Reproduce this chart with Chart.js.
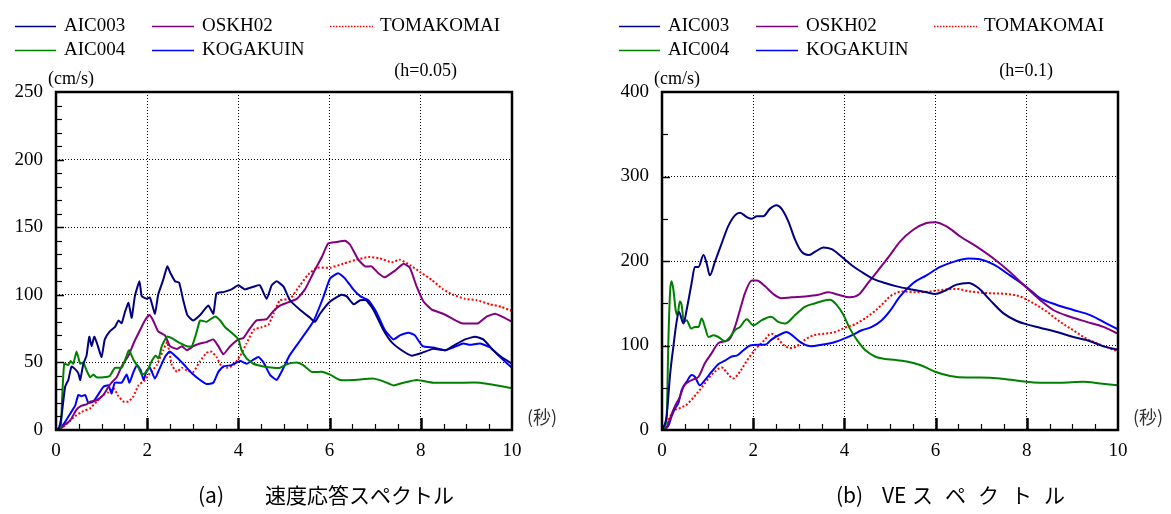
<!DOCTYPE html>
<html>
<head>
<meta charset="utf-8">
<script src="https://cdn.jsdelivr.net/npm/chart.js@4/dist/chart.umd.min.js"></script>
<style>
  html, body { margin: 0; padding: 0; background: #fff; }
  canvas { position: absolute; top: 0; }
  #vel-chart { left: 0; }
  #ve-chart { left: 590px; }
</style>
</head>
<body>
<canvas id="vel-chart" width="590" height="514"></canvas>
<canvas id="ve-chart" width="581" height="514"></canvas>
<script>
// station order, colours
const stationNames = ["AIC003", "AIC004", "OSKH02", "KOGAKUIN", "TOMAKOMAI"];
const stationColors = ["#000080", "#008000", "#800080", "#0000ff", "#ff0000"];

// velocity response spectrum, h=0.05  [period (s), cm/s]
const velAIC003 = [[0,0],[0.05,0],[0.12,10],[0.2,32],[0.27,37],[0.34,47],[0.42,45],[0.49,42],[0.53,37],[0.6,49],[0.67,55],[0.73,69],[0.78,62],[0.84,69],[0.9,64],[1.0,54],[1.07,67],[1.18,73],[1.29,76],[1.37,81],[1.44,79],[1.51,87],[1.59,94],[1.66,83],[1.73,99],[1.83,110],[1.88,99],[1.99,97],[2.06,98],[2.17,86],[2.24,100],[2.35,111],[2.44,121],[2.51,116],[2.61,110],[2.7,109],[2.79,96],[2.88,85],[3.01,81],[3.16,85],[3.34,92],[3.45,86],[3.52,101],[3.67,102],[3.85,104],[4.0,107],[4.14,104],[4.33,106],[4.47,107],[4.62,97],[4.73,107],[4.84,110],[4.99,106],[5.13,96],[5.35,89],[5.57,83],[5.68,80],[5.79,86],[6.01,95],[6.26,100],[6.37,99],[6.53,93],[6.67,96],[6.8,96],[6.96,89],[7.18,74],[7.36,65],[7.58,59],[7.8,55],[8.02,57],[8.27,60],[8.54,59],[8.75,63],[8.97,67],[9.19,69],[9.37,67],[9.59,59],[9.77,54],[10,49]];
const velAIC004 = [[0,0],[0.1,0],[0.13,20],[0.18,49],[0.27,48],[0.32,51],[0.38,49],[0.45,58],[0.53,49],[0.6,50],[0.67,44],[0.75,39],[0.82,41],[0.89,39],[1.04,39],[1.18,40],[1.29,46],[1.44,46],[1.54,54],[1.6,59],[1.7,52],[1.81,46],[1.88,41],[1.99,43],[2.1,51],[2.19,55],[2.25,53],[2.32,62],[2.43,69],[2.54,68],[2.68,65],[2.87,62],[2.98,62],[3.08,72],[3.16,81],[3.3,80],[3.49,84],[3.6,81],[3.71,76],[3.85,72],[4.0,67],[4.07,59],[4.18,53],[4.33,49],[4.55,47],[4.77,46],[4.91,46],[5.09,49],[5.28,50],[5.42,48],[5.61,43],[5.83,43],[6.01,41],[6.23,37],[6.52,37],[6.96,38],[7.18,36],[7.4,33],[7.62,35],[7.91,37],[8.27,35],[8.86,35],[9.3,35],[10,31]];
const velOSKH02 = [[0,0],[0.1,1],[0.2,4],[0.31,7],[0.45,15],[0.56,18],[0.67,19],[0.75,21],[0.89,22],[1.04,26],[1.15,32],[1.22,35],[1.33,39],[1.44,47],[1.59,55],[1.7,64],[1.83,73],[1.95,81],[2.05,85],[2.13,81],[2.24,73],[2.39,70],[2.5,62],[2.65,60],[2.76,62],[2.87,59],[3.01,62],[3.16,64],[3.3,65],[3.45,67],[3.56,62],[3.67,56],[3.82,62],[4.0,67],[4.11,68],[4.25,75],[4.4,81],[4.62,82],[4.77,88],[4.91,92],[5.06,94],[5.28,97],[5.46,104],[5.64,116],[5.83,128],[5.97,138],[6.15,139],[6.34,140],[6.45,137],[6.63,126],[6.78,121],[6.92,121],[7.07,116],[7.21,113],[7.44,118],[7.62,123],[7.76,120],[7.91,106],[8.06,95],[8.24,89],[8.49,86],[8.71,82],[8.9,79],[9.26,79],[9.45,84],[9.63,86],[9.77,84],[10,80]];
const velKOGAKUIN = [[0,0],[0.16,4],[0.31,12],[0.42,18],[0.49,26],[0.56,25],[0.64,26],[0.71,20],[0.82,21],[0.96,28],[1.04,32],[1.15,33],[1.22,27],[1.29,35],[1.44,35],[1.55,41],[1.61,35],[1.7,43],[1.78,48],[1.86,44],[1.92,37],[1.99,44],[2.06,46],[2.17,38],[2.28,46],[2.39,54],[2.49,58],[2.61,55],[2.79,49],[2.98,42],[3.16,37],[3.3,34],[3.45,35],[3.56,43],[3.67,47],[3.85,48],[4.04,51],[4.18,49],[4.33,52],[4.44,54],[4.55,50],[4.69,41],[4.84,37],[4.99,46],[5.12,55],[5.35,66],[5.64,80],[5.86,98],[6.01,112],[6.19,116],[6.34,112],[6.52,104],[6.67,99],[6.85,96],[7.03,87],[7.21,74],[7.4,67],[7.54,70],[7.73,72],[7.87,70],[8.04,62],[8.27,61],[8.54,59],[8.71,61],[8.93,64],[9.08,63],[9.3,64],[9.52,61],[9.74,54],[10,46]];
const velTOMAKOMAI = [[0,0],[0.15,2],[0.31,7],[0.45,11],[0.6,14],[0.75,16],[0.89,21],[1.04,26],[1.15,28],[1.26,31],[1.37,25],[1.48,21],[1.59,21],[1.7,25],[1.81,33],[1.95,37],[2.06,42],[2.21,48],[2.35,59],[2.44,65],[2.54,48],[2.65,43],[2.76,46],[2.87,44],[3.01,43],[3.16,51],[3.3,57],[3.41,58],[3.52,54],[3.63,47],[3.74,46],[3.89,48],[4.04,55],[4.18,64],[4.33,74],[4.51,76],[4.66,78],[4.77,86],[4.91,96],[5.13,97],[5.35,107],[5.53,115],[5.72,120],[6.01,120],[6.3,123],[6.59,126],[6.85,128],[7.1,127],[7.36,124],[7.54,126],[7.76,122],[7.98,117],[8.24,111],[8.49,104],[8.71,100],[8.97,97],[9.23,96],[9.52,93],[9.77,91],[10,88]];

// energy-equivalent velocity (VE) spectrum, h=0.1  [period (s), cm/s]
const veAIC003 = [[0,0],[0.1,16],[0.18,67],[0.25,99],[0.32,128],[0.37,140],[0.47,126],[0.54,142],[0.65,174],[0.72,193],[0.8,193],[0.91,207],[0.98,197],[1.05,183],[1.16,199],[1.31,221],[1.45,241],[1.6,254],[1.71,257],[1.86,252],[1.97,250],[2.08,253],[2.22,253],[2.37,262],[2.51,266],[2.62,262],[2.77,247],[2.92,225],[3.06,211],[3.21,207],[3.36,211],[3.54,216],[3.72,214],[3.94,205],[4.16,195],[4.38,187],[4.67,178],[4.89,174],[5.15,170],[5.51,166],[5.8,163],[5.99,161],[6.17,164],[6.46,172],[6.72,174],[6.94,168],[7.19,154],[7.49,138],[7.78,129],[8.0,125],[8.29,121],[8.66,116],[9.02,110],[9.39,105],[9.68,99],[10,95]];
const veAIC004 = [[0,0],[0.1,12],[0.14,106],[0.18,166],[0.21,176],[0.25,166],[0.3,142],[0.34,136],[0.39,152],[0.43,148],[0.48,128],[0.54,130],[0.64,120],[0.72,122],[0.8,122],[0.87,132],[0.94,122],[1.02,110],[1.13,112],[1.24,110],[1.38,105],[1.49,110],[1.6,118],[1.71,122],[1.86,131],[2.0,124],[2.19,130],[2.39,134],[2.55,128],[2.7,126],[2.92,136],[3.14,146],[3.36,150],[3.54,153],[3.68,154],[3.83,148],[3.98,136],[4.12,120],[4.27,107],[4.45,95],[4.67,87],[4.89,84],[5.1,83],[5.37,81],[5.66,77],[5.99,69],[6.32,64],[6.68,62],[6.97,62],[7.41,61],[7.85,58],[8.29,56],[8.73,56],[9.24,57],[9.61,55],[10,53]];
const veOSKH02 = [[0,0],[0.1,3],[0.18,14],[0.25,24],[0.32,32],[0.39,39],[0.47,51],[0.58,57],[0.69,60],[0.8,63],[0.94,79],[1.09,91],[1.24,103],[1.38,105],[1.49,108],[1.6,122],[1.71,142],[1.82,162],[1.97,177],[2.08,177],[2.26,170],[2.44,161],[2.62,156],[2.84,157],[3.14,158],[3.43,160],[3.65,163],[3.87,160],[4.12,157],[4.31,160],[4.52,174],[4.74,189],[5.0,207],[5.22,223],[5.51,237],[5.8,245],[5.99,246],[6.24,241],[6.54,229],[6.9,217],[7.27,203],[7.63,187],[8.0,168],[8.29,154],[8.58,142],[8.95,134],[9.31,128],[9.68,122],[10,114]];
const veKOGAKUIN = [[0,0],[0.14,5],[0.21,16],[0.29,26],[0.36,32],[0.43,47],[0.54,57],[0.65,65],[0.72,63],[0.83,53],[0.94,59],[1.09,69],[1.24,78],[1.38,82],[1.53,87],[1.64,88],[1.78,94],[1.93,100],[2.11,101],[2.26,101],[2.4,107],[2.59,113],[2.73,116],[2.88,111],[3.06,103],[3.28,99],[3.5,101],[3.72,103],[3.94,107],[4.16,112],[4.38,118],[4.6,122],[4.82,130],[5.0,141],[5.22,158],[5.51,174],[5.8,183],[6.1,193],[6.39,199],[6.72,203],[6.97,202],[7.27,196],[7.63,183],[8.0,169],[8.29,156],[8.66,148],[9.02,142],[9.39,136],[9.75,126],[10,119]];
const veTOMAKOMAI = [[0,0],[0.14,12],[0.25,22],[0.39,26],[0.54,30],[0.65,36],[0.76,43],[0.91,53],[1.05,63],[1.2,71],[1.31,74],[1.42,68],[1.56,61],[1.71,69],[1.86,82],[2.04,95],[2.22,105],[2.4,114],[2.51,110],[2.66,101],[2.81,97],[2.95,99],[3.14,107],[3.32,112],[3.57,114],[3.79,116],[4.01,121],[4.23,125],[4.45,132],[4.67,141],[4.89,152],[5.0,158],[5.29,164],[5.58,163],[5.88,164],[6.17,166],[6.46,167],[6.75,164],[7.12,162],[7.56,161],[7.85,158],[8.14,150],[8.44,140],[8.73,128],[9.02,118],[9.31,108],[9.61,101],[10,93]];

const serif = "'Liberation Serif', 'Times New Roman', serif";
const cjk = "'Noto Sans CJK JP', sans-serif";

// legend slots: [station index, line x0, line x1, text x, row y]
const legendSlots = [[0, 0, 41, 49, 26], [2, 137, 179, 187, 26], [4, 315, 358, 365, 26], [1, 0, 41, 49, 50], [3, 137, 179, 187, 50]];

const framePlugin = {
  id: "frame",
  afterDatasetsDraw(chart) {
    const { ctx, chartArea, scales } = chart;
    const cfg = chart.options.plugins.frame;
    const { left, right, top, bottom } = chartArea;
    ctx.save();

    // minor / major tick marks pointing into the plot
    ctx.strokeStyle = "#000";
    for (let v = cfg.yMinor; v < cfg.yMax; v += cfg.yMinor) {
      const y = Math.round(scales.y.getPixelForValue(v)) + 0.5;
      const major = v % cfg.yStep === 0;
      ctx.lineWidth = major ? 1.5 : 1.2;
      ctx.beginPath();
      ctx.moveTo(left, y);
      ctx.lineTo(left + (major ? 8 : 6), y);
      ctx.stroke();
    }
    for (let t = 0.5; t < 10; t += 0.5) {
      const x = Math.round(scales.x.getPixelForValue(t)) + 0.5;
      const major = t % 2 === 0;
      ctx.lineWidth = major ? 2.5 : 1.2;
      ctx.beginPath();
      ctx.moveTo(x, bottom);
      ctx.lineTo(x, bottom - (major ? 12 : 6));
      ctx.stroke();
    }

    ctx.lineWidth = 2.5;
    ctx.strokeRect(left, top, right - left, bottom - top);

    // legend
    ctx.font = `19px ${serif}`;
    ctx.textBaseline = "middle";
    ctx.fillStyle = "#000";
    legendSlots.forEach(([idx, x0, x1, tx, y]) => {
      const ox = cfg.legendX;
      ctx.beginPath();
      ctx.lineWidth = 1.6;
      ctx.strokeStyle = stationColors[idx];
      ctx.setLineDash(stationNames[idx] === "TOMAKOMAI" ? [1.5, 1.5] : []);
      ctx.moveTo(ox + x0, y + 0.5);
      ctx.lineTo(ox + x1, y + 0.5);
      ctx.stroke();
      ctx.setLineDash([]);
      ctx.fillText(stationNames[idx], ox + tx, y);
    });

    // unit, damping and period labels
    ctx.font = `18px ${serif}`;
    ctx.fillText("(cm/s)", left - 8, 79);
    ctx.textAlign = "right";
    ctx.fillText(cfg.damping, right - cfg.dampingInset, 71);
    ctx.textAlign = "left";
    ctx.font = `18px ${cjk}`;
    ctx.fillStyle = "#333";
    ctx.fillText("(秒)", right + 15, 417);

    // caption
    ctx.fillStyle = "#000";
    ctx.font = `21px ${cjk}`;
    cfg.caption.forEach(([text, x, spacing]) => {
      ctx.letterSpacing = `${spacing}px`;
      ctx.fillText(text, x, 495);
    });
    ctx.letterSpacing = "0px";
    ctx.restore();
  },
};

const buildChart = (canvasId, series, cfg) => {
  const yMax = cfg.yMax;
  return new Chart(document.getElementById(canvasId), {
    type: "line",
    data: {
      datasets: stationNames.map((name, i) => ({
        label: name,
        data: series[i].map(([x, y]) => ({ x, y })),
        borderColor: stationColors[i],
        borderWidth: 2,
        borderDash: name === "TOMAKOMAI" ? [2, 2] : [],
        pointRadius: 0,
        fill: false,
        tension: cfg.tension,
        cubicInterpolationMode: cfg.mode,
      })),
    },
    options: {
      responsive: false,
      animation: false,
      devicePixelRatio: 1,
      layout: { padding: { left: 0, top: 92, right: cfg.padRight, bottom: 0 } },
      plugins: {
        legend: { display: false },
        tooltip: { enabled: false },
        frame: cfg,
      },
      scales: {
        x: {
          type: "linear",
          min: 0,
          max: 10,
          ticks: { stepSize: 2, padding: 10, maxRotation: 0, color: "#000", font: { family: serif, size: 19 } },
          grid: {
            drawTicks: false,
            lineWidth: 1,
            color: (c) => (c.tick && (c.tick.value === 0 || c.tick.value === 10) ? "rgba(0,0,0,0)" : "#000"),
          },
          border: { display: false, dash: [1, 2] },
          afterFit: (scale) => { scale.height = 84; },
        },
        y: {
          type: "linear",
          min: 0,
          max: yMax,
          ticks: { stepSize: cfg.yStep, padding: 13, color: "#000", font: { family: serif, size: 19 } },
          grid: {
            drawTicks: false,
            lineWidth: 1,
            color: (c) => (c.tick && (c.tick.value === 0 || c.tick.value === yMax) ? "rgba(0,0,0,0)" : "#000"),
          },
          border: { display: false, dash: [1, 2] },
          afterFit: (scale) => { scale.width = cfg.axisWidth; },
        },
      },
    },
    plugins: [framePlugin],
  });
};

buildChart("vel-chart", [velAIC003, velAIC004, velOSKH02, velKOGAKUIN, velTOMAKOMAI], {
  yMax: 250, yStep: 50, yMinor: 10, axisWidth: 56, padRight: 78,
  tension: 0.15, mode: "default", legendX: 15,
  damping: "(h=0.05)", dampingInset: 55,
  caption: [["(a)", 198, 0], ["速度応答スペクトル", 265, 0]],
});

buildChart("ve-chart", [veAIC003, veAIC004, veOSKH02, veKOGAKUIN, veTOMAKOMAI], {
  yMax: 400, yStep: 100, yMinor: 50, axisWidth: 72, padRight: 53,
  tension: 0.4, mode: "monotone", legendX: 29,
  damping: "(h=0.1)", dampingInset: 65,
  caption: [["(b)", 246, 0], ["VE", 292, 0], ["スペクトル", 322, 12]],
});
</script>
</body>
</html>
